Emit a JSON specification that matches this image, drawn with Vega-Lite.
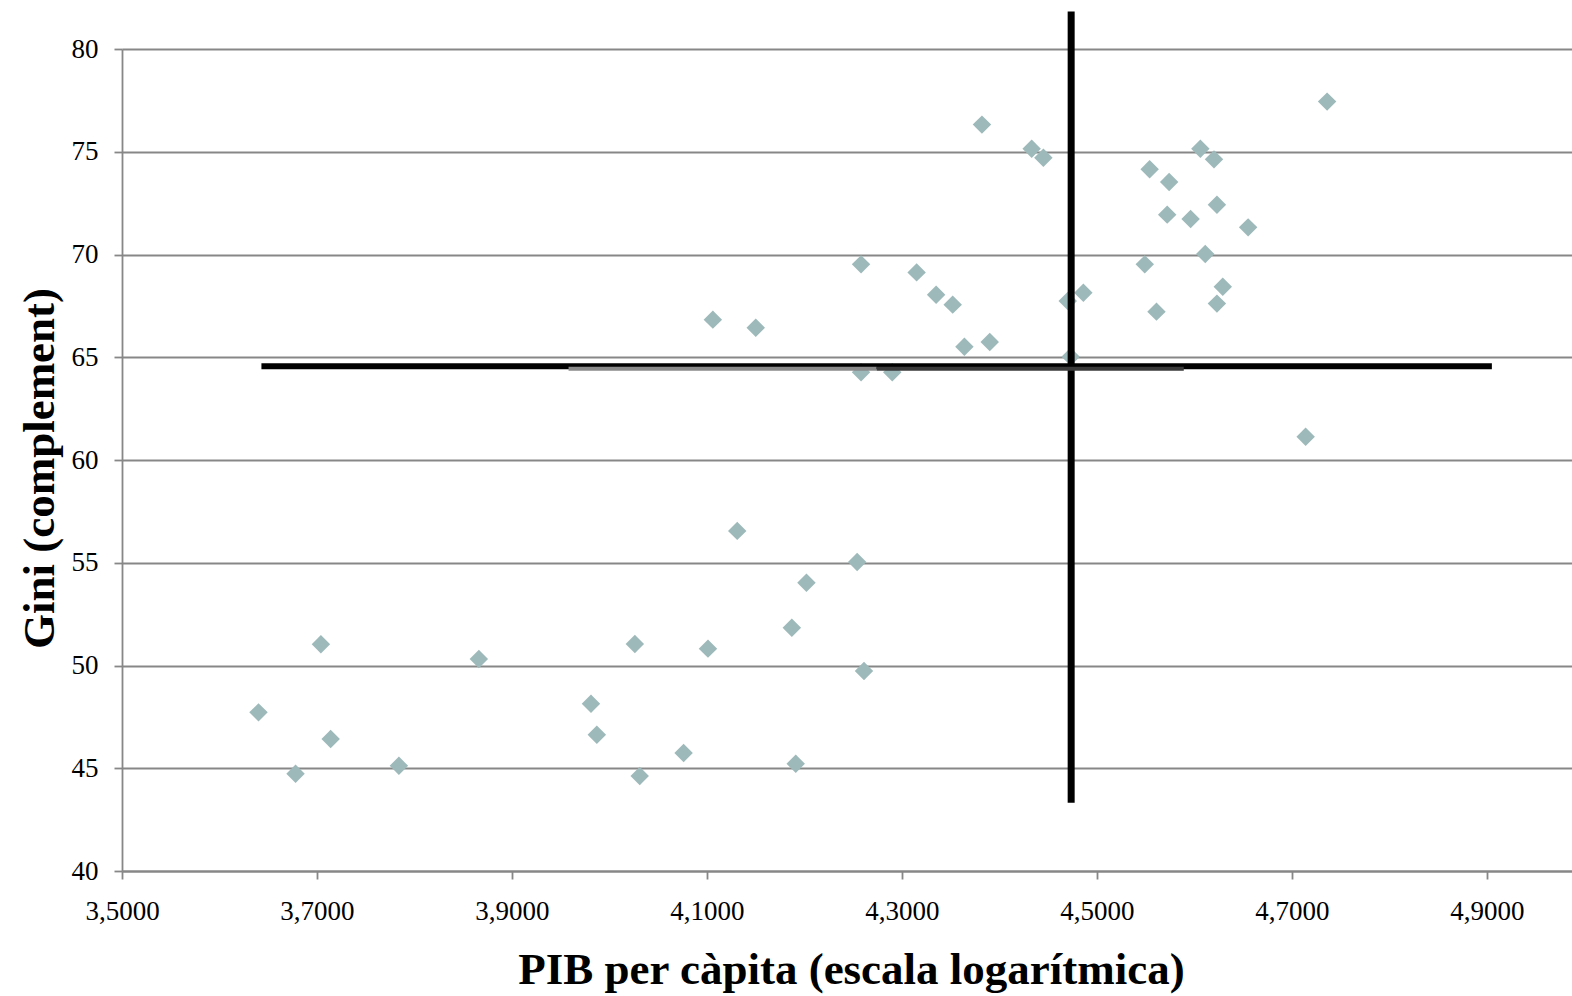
{
  "$schema": "https://vega.github.io/schema/vega-lite/v6.json",
  "width": 1450,
  "height": 822,
  "autosize": {"type": "none"},
  "padding": {"left": 122, "top": 49, "right": 0, "bottom": 125},
  "background": "white",
  "config": {"view": {"stroke": null}, "font": "Liberation Serif"},
  "datasets": {
    "points": [
      {"pib": 3.640, "gini": 47.72},
      {"pib": 3.704, "gini": 51.03},
      {"pib": 3.714, "gini": 46.42},
      {"pib": 3.678, "gini": 44.73},
      {"pib": 3.784, "gini": 45.12},
      {"pib": 3.866, "gini": 50.32},
      {"pib": 4.131, "gini": 56.55},
      {"pib": 4.254, "gini": 55.04},
      {"pib": 4.202, "gini": 54.03},
      {"pib": 4.187, "gini": 51.84},
      {"pib": 4.026, "gini": 51.05},
      {"pib": 4.101, "gini": 50.82},
      {"pib": 4.261, "gini": 49.73},
      {"pib": 3.981, "gini": 48.14},
      {"pib": 3.987, "gini": 46.63},
      {"pib": 4.076, "gini": 45.74},
      {"pib": 4.031, "gini": 44.62},
      {"pib": 4.191, "gini": 45.22},
      {"pib": 4.382, "gini": 76.32},
      {"pib": 4.433, "gini": 75.15},
      {"pib": 4.445, "gini": 74.71},
      {"pib": 4.258, "gini": 69.52},
      {"pib": 4.315, "gini": 69.13},
      {"pib": 4.335, "gini": 68.04},
      {"pib": 4.352, "gini": 67.56},
      {"pib": 4.106, "gini": 66.83},
      {"pib": 4.150, "gini": 66.44},
      {"pib": 4.364, "gini": 65.51},
      {"pib": 4.390, "gini": 65.74},
      {"pib": 4.258, "gini": 64.27},
      {"pib": 4.290, "gini": 64.27},
      {"pib": 4.470, "gini": 67.74},
      {"pib": 4.473, "gini": 65.03},
      {"pib": 4.736, "gini": 77.44},
      {"pib": 4.606, "gini": 75.15},
      {"pib": 4.620, "gini": 74.63},
      {"pib": 4.554, "gini": 74.15},
      {"pib": 4.574, "gini": 73.53},
      {"pib": 4.623, "gini": 72.42},
      {"pib": 4.572, "gini": 71.94},
      {"pib": 4.596, "gini": 71.73},
      {"pib": 4.655, "gini": 71.32},
      {"pib": 4.611, "gini": 70.02},
      {"pib": 4.549, "gini": 69.52},
      {"pib": 4.486, "gini": 68.14},
      {"pib": 4.629, "gini": 68.43},
      {"pib": 4.623, "gini": 67.61},
      {"pib": 4.561, "gini": 67.22},
      {"pib": 4.714, "gini": 61.13}
    ],
    "vline": [{"pib": 4.4735, "gini": 43.32, "gini2": 81.82}],
    "hline": [{"pib": 3.643, "pib2": 4.905, "gini": 64.56}],
    "segLight": [{"pib": 3.958, "pib2": 4.274, "gini": 64.44}],
    "segDark": [{"pib": 4.274, "pib2": 4.589, "gini": 64.44}]
  },
  "layer": [
    {
      "data": {"name": "points"},
      "mark": {"type": "point", "shape": "diamond", "filled": true, "size": 340, "color": "#9DB9BA", "opacity": 1},
      "encoding": {
        "x": {
          "field": "pib", "type": "quantitative",
          "scale": {"domain": [3.5, 4.98718], "nice": false, "zero": false},
          "axis": {
            "values": [3.5, 3.7, 3.9, 4.1, 4.3, 4.5, 4.7, 4.9],
            "labelExpr": "replace(format(datum.value, '.4f'), '.', ',')",
            "grid": false,
            "domainColor": "#878787", "domainWidth": 1.8,
            "tickColor": "#878787", "tickWidth": 1.8, "tickSize": 8,
            "labelFont": "Liberation Serif", "labelFontSize": 27, "labelColor": "black",
            "labelPadding": 19, "labelFlush": false, "labelOverlap": false,
            "title": "PIB per càpita (escala logarítmica)",
            "titleFont": "Liberation Serif", "titleFontSize": 45, "titleFontWeight": "bold", "titleColor": "black",
            "titleX": 729, "titleY": 112, "titleBaseline": "alphabetic", "titleAlign": "center"
          }
        },
        "y": {
          "field": "gini", "type": "quantitative",
          "scale": {"domain": [40, 80], "nice": false, "zero": false},
          "axis": {
            "values": [40, 45, 50, 55, 60, 65, 70, 75, 80],
            "grid": true, "gridColor": "#878787", "gridWidth": 1.8,
            "domainColor": "#878787", "domainWidth": 1.8,
            "tickColor": "#878787", "tickWidth": 1.8, "tickSize": 8,
            "labelFont": "Liberation Serif", "labelFontSize": 27, "labelColor": "black",
            "labelPadding": 16, "labelOverlap": false,
            "title": "Gini (complement)",
            "titleFont": "Liberation Serif", "titleFontSize": 45, "titleFontWeight": "bold", "titleColor": "black",
            "titleAngle": 270, "titleX": -69, "titleY": 419, "titleBaseline": "alphabetic", "titleAlign": "center"
          }
        }
      }
    },
    {
      "data": {"name": "vline"},
      "mark": {"type": "rule", "color": "black", "strokeWidth": 7},
      "encoding": {
        "x": {"field": "pib", "type": "quantitative"},
        "y": {"field": "gini", "type": "quantitative"},
        "y2": {"field": "gini2"}
      }
    },
    {
      "data": {"name": "hline"},
      "mark": {"type": "rule", "color": "black", "strokeWidth": 6},
      "encoding": {
        "x": {"field": "pib", "type": "quantitative"},
        "x2": {"field": "pib2"},
        "y": {"field": "gini", "type": "quantitative"}
      }
    },
    {
      "data": {"name": "segLight"},
      "mark": {"type": "rule", "color": "#8a8a8a", "strokeWidth": 4},
      "encoding": {
        "x": {"field": "pib", "type": "quantitative"},
        "x2": {"field": "pib2"},
        "y": {"field": "gini", "type": "quantitative"}
      }
    },
    {
      "data": {"name": "segDark"},
      "mark": {"type": "rule", "color": "#3a3a3a", "strokeWidth": 4},
      "encoding": {
        "x": {"field": "pib", "type": "quantitative"},
        "x2": {"field": "pib2"},
        "y": {"field": "gini", "type": "quantitative"}
      }
    }
  ]
}
